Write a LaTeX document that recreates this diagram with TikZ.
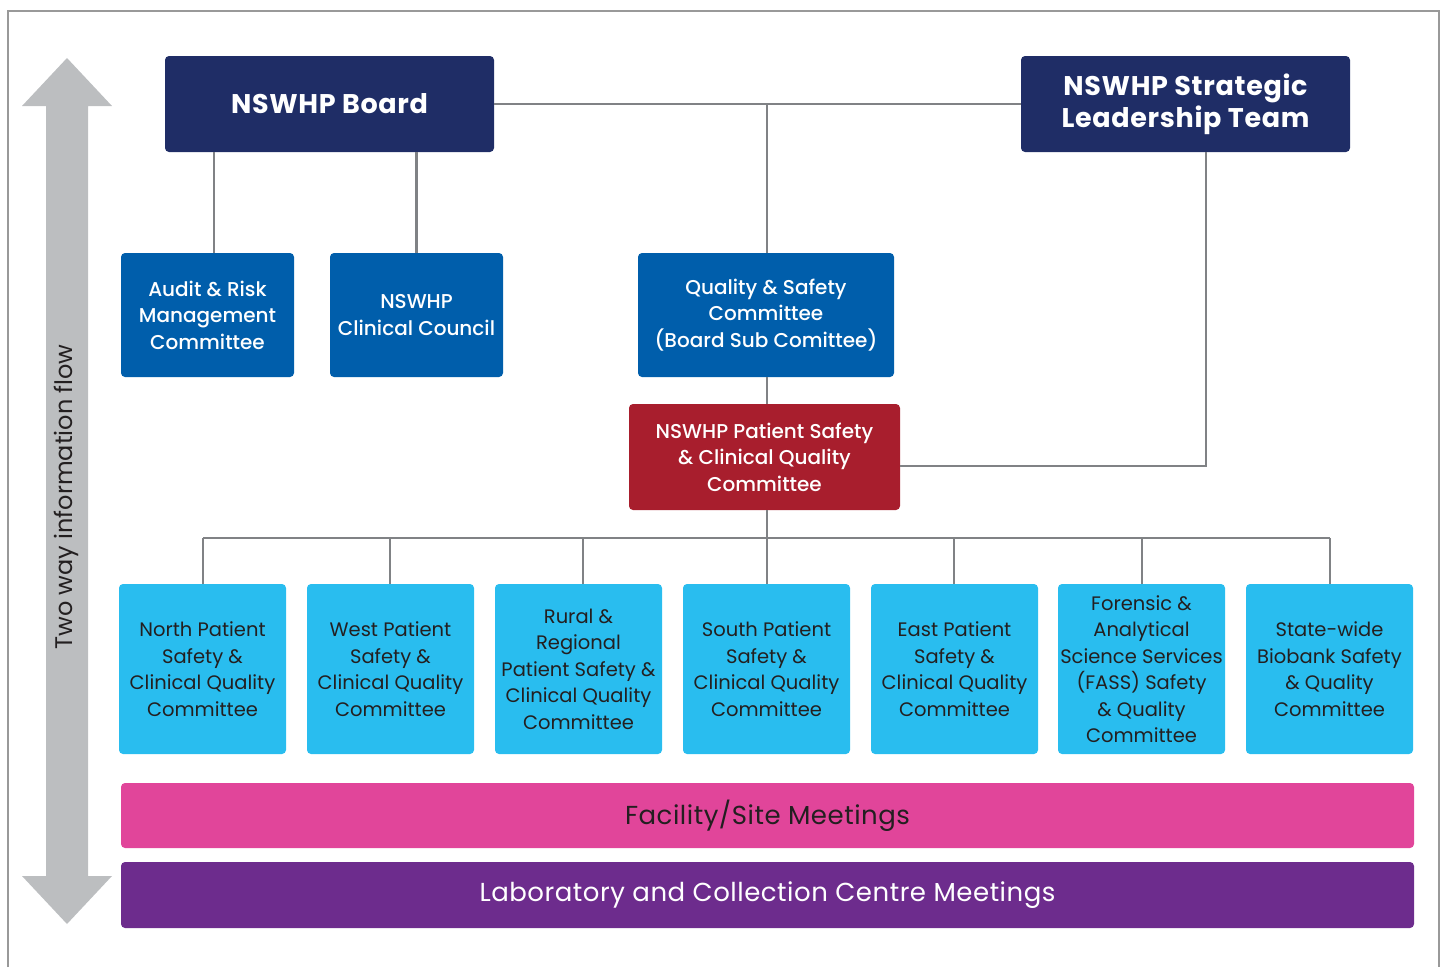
\documentclass[tikz,border=0pt]{standalone}
\usepackage{fontspec}
\setmainfont{Poppins}
\newfontfamily\pmedium{Poppins}[UprightFont=* Medium]
\definecolor{navy}{HTML}{1F2D66}
\definecolor{midblue}{HTML}{005EAB}
\definecolor{redbox}{HTML}{A81E2D}
\definecolor{cyanbox}{HTML}{29BDEF}
\definecolor{pinkbar}{HTML}{E1459A}
\definecolor{purplebar}{HTML}{6D2C8D}
\definecolor{linegray}{HTML}{808285}
\definecolor{arrowgray}{HTML}{BCBEC0}
\definecolor{darktext}{HTML}{231F20}
\begin{document}
\begin{tikzpicture}[x=1pt,y=-1pt,
  box/.style={rounded corners=4pt, inner sep=0pt, align=center},
  navybox/.style={box, fill=navy, text=white, minimum width=329pt, minimum height=96pt, font=\fontsize{27}{32}\selectfont\bfseries\addfontfeatures{LetterSpace=2.5}},
  bluebox/.style={box, fill=midblue, text=white, minimum height=124pt, font=\pmedium\fontsize{20}{26.5}\selectfont},
  rednode/.style={box, fill=redbox, text=white, minimum width=271pt, minimum height=106pt, font=\pmedium\fontsize{20}{26.5}\selectfont},
  cyannode/.style={box, fill=cyanbox, text=darktext, minimum width=167pt, minimum height=170pt, font=\fontsize{19.5}{26.5}\selectfont},
  barnode/.style={box, text=white, minimum width=1293pt, font=\fontsize{26}{30}\selectfont\addfontfeatures{LetterSpace=2}},
  conn/.style={draw=linegray, line width=2.5pt}
]
\useasboundingbox (0,0) rectangle (1446,967);
% frame
\draw[color=gray!80, line width=1.2pt] (8,967) -- (8,11) -- (1439,11) -- (1439,967);
% two-way arrow
\fill[arrowgray] (67,58) -- (112,106) -- (88,106) -- (88,876) -- (112,876) -- (67,924) -- (22,876) -- (46,876) -- (46,106) -- (22,106) -- cycle;
\node[rotate=90, text=darktext, font=\fontsize{24}{28}\selectfont, inner sep=0pt] (flow) at (66,497) {Two way information flow};

% top level
\node[navybox] (board) at (329.5,104) {NSWHP Board};
\node[navybox] (slt) at (1185.5,104) {NSWHP Strategic\\Leadership Team};
% second level
\node[bluebox, minimum width=173pt] (aud) at (207.5,315) {Audit \& Risk\\Management\\Committee};
\node[bluebox, minimum width=173pt] (cc) at (416.5,315) {NSWHP\\Clinical Council};
\node[bluebox, minimum width=256pt] (qs) at (766,315) {Quality \& Safety\\Committee\\(Board Sub Comittee)};
% patient safety committee
\node[rednode] (psc) at (764.5,457) {NSWHP Patient Safety\\\& Clinical Quality\\Committee};
% sub committees
\node[cyannode] (n1) at (202.5,669) {North Patient\\Safety \&\\Clinical Quality\\Committee};
\node[cyannode] (n2) at (390.5,669) {West Patient\\Safety \&\\Clinical Quality\\Committee};
\node[cyannode] (n3) at (578.5,669) {Rural \&\\Regional\\Patient Safety \&\\Clinical Quality\\Committee};
\node[cyannode] (n4) at (766.5,669) {South Patient\\Safety \&\\Clinical Quality\\Committee};
\node[cyannode] (n5) at (954.5,669) {East Patient\\Safety \&\\Clinical Quality\\Committee};
\node[cyannode] (n6) at (1141.5,669) {Forensic \&\\Analytical\\Science Services\\(FASS) Safety\\\& Quality\\Committee};
\node[cyannode] (n7) at (1329.5,669) {State-wide\\Biobank Safety\\\& Quality\\Committee};
% bars
\node[barnode, fill=pinkbar, minimum height=65pt, text=darktext] (fac) at (767.5,815.5) {Facility/Site Meetings};
\node[barnode, fill=purplebar, minimum height=66pt] (lab) at (767.5,895) {Laboratory and Collection Centre Meetings};

% connectors
\draw[conn] (board.east) -- (slt.west);
\coordinate (a1) at ([xshift=6.5pt]aud.north);
\draw[conn] (a1) -- (a1 |- board.south);
\draw[conn] (cc.north) -- (cc.north |- board.south);
\coordinate (q1) at ([xshift=1pt]qs.north);
\draw[conn] (q1) -- (q1 |- board.east);
\coordinate (q2) at ([xshift=1pt]qs.south);
\draw[conn] (q2) -- (q2 |- psc.north);
\coordinate (s1) at ([xshift=20.5pt]slt.south);
\coordinate (p1) at ([yshift=-9pt]psc.east);
\draw[conn] (s1) |- (p1);
\coordinate (bus) at (0,538);
\coordinate (p2) at ([xshift=2.5pt]psc.south);
\draw[conn] (p2) -- (p2 |- bus);
\coordinate (c1) at ([xshift=0.5pt]n1.north);
\coordinate (c2) at ([xshift=-0.5pt]n2.north);
\coordinate (c3) at ([xshift=4.5pt]n3.north);
\coordinate (c4) at ([xshift=0.5pt]n4.north);
\coordinate (c5) at ([xshift=-0.5pt]n5.north);
\coordinate (c6) at ([xshift=0.5pt]n6.north);
\coordinate (c7) at ([xshift=0.5pt]n7.north);
\draw[conn] (c1 |- bus) -- (c7 |- bus);
\foreach \c in {c1,c2,c3,c4,c5,c6,c7} {
  \draw[conn] (\c) -- (\c |- bus);
}
\end{tikzpicture}
\end{document}
